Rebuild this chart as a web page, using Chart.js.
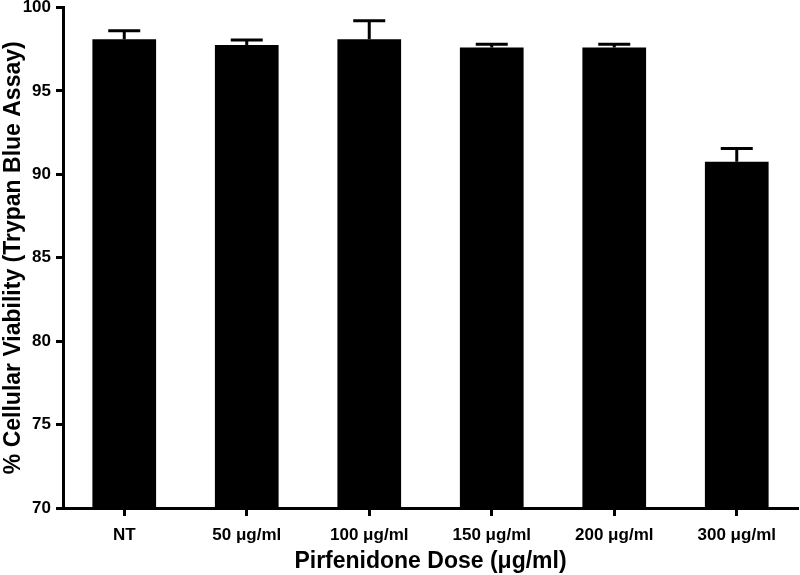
<!DOCTYPE html>
<html>
<head>
<meta charset="utf-8">
<script src="https://cdn.jsdelivr.net/npm/chart.js@4.4.0/dist/chart.umd.min.js"></script>
<style>
  html, body { margin: 0; padding: 0; background: #fff; }
  #wrap { width: 800px; height: 575px; position: relative; }
</style>
</head>
<body>
<div id="wrap"><canvas id="c"></canvas></div>
<script>
const categories = ['NT', '50 \u03bcg/ml', '100 \u03bcg/ml', '150 \u03bcg/ml', '200 \u03bcg/ml', '300 \u03bcg/ml'];
const viability = [98.1, 97.75, 98.1, 97.6, 97.6, 90.75];
const errorUp = [0.5, 0.3, 1.1, 0.2, 0.2, 0.8];
const yTicks = [70, 75, 80, 85, 90, 95, 100];
const xTitle = 'Pirfenidone Dose (\u03bcg/ml)';
const yTitle = '% Cellular Viability (Trypan Blue Assay)';

const FONT = "'Liberation Sans', Arial, Helvetica, sans-serif";

const errorBars = {
  id: 'errorBars',
  afterDatasetsDraw(chart) {
    const meta = chart.getDatasetMeta(0);
    const yScale = chart.scales.y;
    const ctx = chart.ctx;
    ctx.save();
    ctx.strokeStyle = '#000';
    ctx.lineWidth = 3;
    meta.data.forEach((bar, i) => {
      const x = bar.x;
      const yBase = bar.y;
      const yTop = yScale.getPixelForValue(viability[i] + errorUp[i]);
      ctx.beginPath();
      ctx.moveTo(x, yBase);
      ctx.lineTo(x, yTop);
      ctx.moveTo(x - 16, yTop);
      ctx.lineTo(x + 16, yTop);
      ctx.stroke();
    });
    ctx.restore();
  }
};

new Chart(document.getElementById('c'), {
  type: 'bar',
  data: {
    labels: categories,
    datasets: [{
      data: viability,
      backgroundColor: '#000',
      borderWidth: 0,
      categoryPercentage: 1.0,
      barPercentage: 0.52
    }]
  },
  options: {
    responsive: true,
    maintainAspectRatio: false,
    animation: false,
    events: [],
    layout: { padding: { top: 0, right: 2, left: 0, bottom: 0 } },
    plugins: {
      legend: { display: false },
      tooltip: { enabled: false },
      title: { display: false }
    },
    scales: {
      x: {
        offset: true,
        grid: {
          offset: false,
          drawOnChartArea: false,
          drawTicks: true,
          tickLength: 8,
          tickWidth: 3,
          tickColor: '#000'
        },
        border: { display: true, color: '#000', width: 3 },
        ticks: {
          color: '#000',
          padding: 9,
          maxRotation: 0,
          font: { family: FONT, size: 17, weight: 'bold' }
        },
        title: {
          display: true,
          text: xTitle,
          color: '#000',
          padding: { top: 0, bottom: 0 },
          font: { family: FONT, size: 23, weight: 'bold' }
        },
        afterFit(scale) { scale.height = 67; scale.paddingLeft = 0; scale.paddingRight = 0; }
      },
      y: {
        min: 70,
        max: 100,
        afterBuildTicks(scale) { scale.ticks = yTicks.map(v => ({ value: v })); },
        grid: {
          drawOnChartArea: false,
          drawTicks: true,
          tickLength: 7,
          tickWidth: 3,
          tickColor: '#000'
        },
        border: { display: true, color: '#000', width: 3 },
        ticks: {
          color: '#000',
          padding: 5,
          font: { family: FONT, size: 17, weight: 'bold' }
        },
        title: {
          display: true,
          text: yTitle,
          color: '#000',
          padding: { top: 0, bottom: 0 },
          font: { family: FONT, size: 23, weight: 'bold' }
        },
        afterFit(scale) { scale.width = 63; scale.paddingTop = 7.5; scale.paddingBottom = 0; }
      }
    }
  },
  plugins: [errorBars]
});
</script>
</body>
</html>
